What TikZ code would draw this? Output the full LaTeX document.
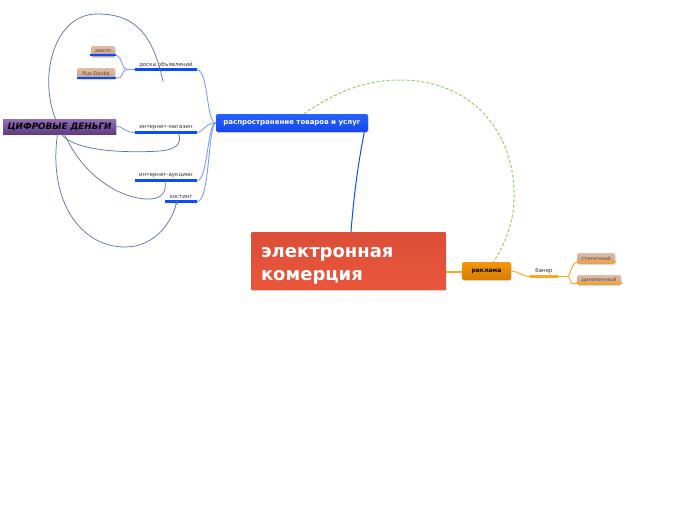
\documentclass[tikz,border=0pt]{standalone}
\usepackage{fontspec}
\setmainfont{DejaVu Sans}
\usetikzlibrary{arrows.meta,shadows}
\definecolor{cred}{RGB}{234,86,60}
\definecolor{credtop}{RGB}{220,78,55}
\definecolor{bblue}{RGB}{40,98,255}
\definecolor{bbluebot}{RGB}{20,70,235}
\definecolor{uline}{RGB}{12,76,255}
\definecolor{lline}{RGB}{125,155,255}
\definecolor{oran}{RGB}{242,150,10}
\definecolor{oranbot}{RGB}{215,125,0}
\definecolor{oline}{RGB}{255,165,30}
\definecolor{tan}{RGB}{222,190,165}
\definecolor{tanbot}{RGB}{200,160,135}
\definecolor{tantext}{RGB}{100,75,60}
\definecolor{purp}{RGB}{150,110,185}
\definecolor{purpbot}{RGB}{95,60,130}
\definecolor{rel}{RGB}{95,118,165}
\definecolor{gdash}{RGB}{150,205,100}
\tikzset{
  shd/.style={drop shadow={opacity=0.25,shadow xshift=0.6pt,shadow yshift=-1pt}},
  central/.style={shd,rectangle,rounded corners=1pt,top color=credtop,bottom color=cred,
    minimum width=195pt,minimum height=58pt,text width=175pt,align=left,inner sep=0pt,
    text=white,font=\fontsize{18}{23}\selectfont\bfseries},
  mainbox/.style={shd,rectangle,rounded corners=2pt,top color=bblue,bottom color=bbluebot,
    minimum width=152pt,minimum height=18pt,inner sep=0pt,text=white,
    font=\fontsize{7}{8}\selectfont\bfseries},
  orbox/.style={shd,rectangle,rounded corners=2pt,top color=oran,bottom color=oranbot,
    minimum width=49pt,minimum height=18pt,inner sep=0pt,text=black,
    font=\fontsize{6}{7}\selectfont\bfseries},
  tanbox/.style={shd,rectangle,rounded corners=1.5pt,top color=tan,bottom color=tanbot,
    minimum height=11pt,inner sep=0pt,text=tantext,font=\fontsize{5.2}{6}\selectfont},
  purpbox/.style={shd,rectangle,top color=purp,bottom color=purpbot,
    minimum width=113pt,minimum height=15pt,inner sep=0pt,text=black,
    font=\fontsize{8.8}{10}\selectfont\bfseries\itshape},
  topic/.style={rectangle,inner xsep=0pt,inner ysep=2.3pt,anchor=south,text=black!80,
    font=\fontsize{5.5}{6}\selectfont},
  bul/.style={uline,line width=2.6pt},
  oul/.style={oline,line width=2.2pt},
  bconn/.style={lline,line width=0.9pt},
  oconn/.style={oline,line width=0.9pt},
  relline/.style={rel,line width=0.75pt},
}
\begin{document}
\begin{tikzpicture}[x=1pt,y=-1pt]
\useasboundingbox (0,0) rectangle (696,520);

% nodes
\node[central] (c) at (348.5,261) {\rule{0pt}{20pt}электронная\\комерция};
\node[mainbox] (p) at (292,123) {распространение товаров и услуг};
\node[orbox] (r) at (486.5,271) {реклама};

\node[topic,minimum width=62pt] (d) at (166,69.5) {доска объявлений};
\node[topic,minimum width=62pt] (m) at (166,132.5) {интернет-магазин};
\node[topic,minimum width=62pt] (a) at (166,180.5) {интернет-аукцион};
\node[topic,minimum width=32pt] (h) at (181,201.5) {хостинг};
\node[topic,minimum width=28pt] (b) at (544,276.5) {банер};

\node[tanbox,minimum width=24pt] (av) at (103,51.5) {авито};
\node[tanbox,minimum width=38pt] (rd) at (96,73.5) {Rus-Doska};
\node[tanbox,minimum width=38pt] (st) at (596,258.5) {статичный};
\node[tanbox,minimum width=44pt,minimum height=10pt] (dy) at (599,280) {динамичный};

\node[purpbox] (cd) at (59.5,126.5) {ЦИФРОВЫЕ ДЕНЬГИ};

% underlines
\draw[bul] (d.south west) -- (d.south east);
\draw[bul] (m.south west) -- (m.south east);
\draw[bul] (a.south west) -- (a.south east);
\draw[bul] (h.south west) -- (h.south east);
\draw[bul,line width=2pt] ([xshift=-1pt,yshift=2pt]av.south west) coordinate (avl) -- ([xshift=1pt,yshift=2pt]av.south east) coordinate (avr);
\draw[bul,line width=2pt] ([yshift=1.5pt]rd.south west) coordinate (rdl) -- ([xshift=1pt,yshift=1.5pt]rd.south east) coordinate (rdr);
\draw[oul] (b.south west) -- (b.south east);
\draw[oul,line width=2pt] ([yshift=2pt]st.south west) coordinate (stl) -- ([xshift=1pt,yshift=2pt]st.south east);
\draw[oul,line width=2pt] ([xshift=-1pt,yshift=2pt]dy.south west) coordinate (dyl) -- ([xshift=1pt,yshift=2pt]dy.south east);

% tree connectors
\draw[uline,line width=1pt] ([xshift=2.5pt]c.north) .. controls (355,180) and (361,150) .. ([xshift=-4pt]p.south east);
\draw[bconn] (p.west) .. controls (206,123) and (209,72) .. (d.south east);
\draw[bconn] (p.west) .. controls (205,123) and (203,132.5) .. (m.south east);
\draw[bconn] (p.west) .. controls (207,124) and (208,180.5) .. (a.south east);
\draw[bconn] (p.west) .. controls (208,124) and (210,201.5) .. (h.south east);
\draw[bconn] (d.south west) -- (127,69.5) .. controls (121,69.5) and (124,59) .. (avr);
\draw[bconn] (127,69.5) .. controls (121,69.5) and (124,80) .. (rdr);
\draw[bconn] (cd.east) .. controls (124,126.5) and (124,132.5) .. (m.south west);

\draw[oline,line width=1.2pt] ([yshift=-1pt]c.east |- r.west) -- ([yshift=-1pt]r.west);
\draw[oconn] (r.east) .. controls (518,271) and (522,276.5) .. (b.south west);
\draw[oconn] (b.south east) -- (568,276.5) .. controls (571,276.5) and (569,266) .. (stl);
\draw[oconn] (568,276.5) .. controls (571,276.5) and (569,287) .. (dyl);

% relationships
\draw[relline] ([xshift=-4pt]cd.north) .. controls (38,75) and (55,14) .. (97,14)
   .. controls (132,14) and (152,30) .. ([xshift=-3pt,yshift=-12pt]d.south);
\draw[relline] ([xshift=2pt]cd.south) .. controls (75,152) and (130,153) .. (160,151)
   .. controls (182,149) and (181,139) .. ([xshift=12pt]m.south);
\draw[relline] ([xshift=5pt]cd.south) .. controls (85,180) and (125,200) .. (150,199)
   .. controls (166,198) and (166,188) .. ([xshift=-1pt]a.south);
\draw[relline,-{Stealth[length=4pt,width=3.5pt]}] ([xshift=-2pt]cd.south) .. controls (48,200) and (80,247) .. (125,247)
   .. controls (155,247) and (172,222) .. ([xshift=-4pt,yshift=1pt]h.south);

\draw[gdash,dashed,line width=1pt,dash pattern=on 3pt off 2pt] ([xshift=12pt]p.north) .. controls (330,96) and (360,80) .. (400,80)
   .. controls (470,80) and (516,130) .. (514,200) .. controls (513,230) and (500,252) .. ([xshift=7pt]r.north);
\end{tikzpicture}
\end{document}
